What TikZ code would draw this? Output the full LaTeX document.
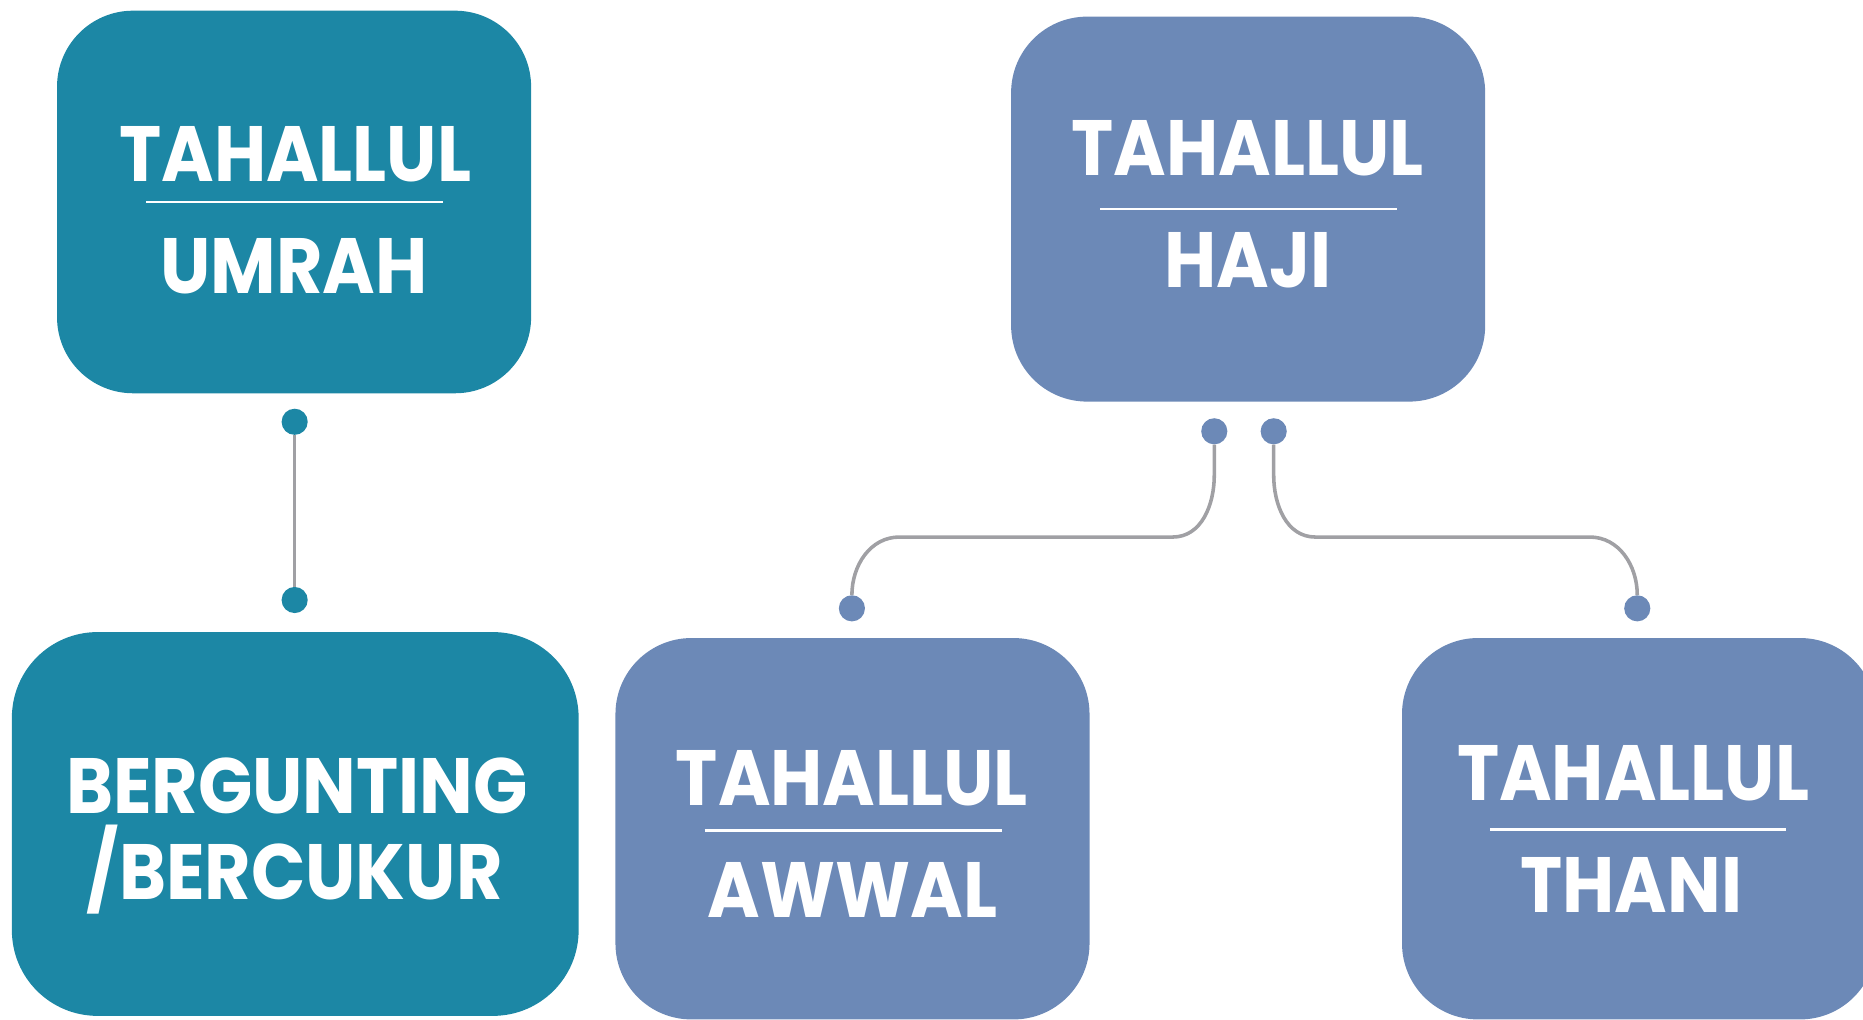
\documentclass[tikz,border=0pt]{standalone}
\usepackage{fontspec}
\setmainfont{Poppins}
\newfontfamily\boxfont{Poppins}[FakeStretch=0.91]
\definecolor{umrahteal}{RGB}{28,135,165}
\definecolor{hajiblue}{RGB}{108,137,183}
\definecolor{linkgray}{RGB}{160,160,164}
\begin{document}
\begin{tikzpicture}[x=1pt,y=1pt,
	box/.style={rounded corners=64pt, minimum width=399pt, minimum height=322pt, inner sep=0pt},
	label/.style={text=white, inner sep=0pt, anchor=base, font=\boxfont\fontsize{66}{66}\selectfont\bfseries},
	dot/.style={circle, inner sep=0pt, minimum size=22pt},
	link/.style={draw=linkgray, line width=3pt},
	bar/.style={draw=white, line width=2pt}]
	\useasboundingbox (0,0) rectangle (1568,-858);
	\clip (0,0) rectangle (1568,-858);
	% boxes
	\node[box, fill=umrahteal] (umrah) at (247.5,-170) {};
	\node[box, fill=hajiblue, minimum height=324pt] (haji) at (1050.5,-176) {};
	\node[box, fill=umrahteal, minimum width=477pt, minimum height=323pt, rounded corners=72pt] (cukur) at (248.5,-693.5) {};
	\node[box, fill=hajiblue, minimum height=321pt] (awwal) at (717.5,-697.5) {};
	\node[box, fill=hajiblue, minimum height=321pt] (thani) at (1379.5,-697.5) {};
	% texts
	\node[label] (umrahA) at (248.5,-153) {TAHALLUL};
	\node[label] (umrahB) at (247.5,-247) {UMRAH};
	\draw[bar] (123,-170) -- (373,-170);
	\node[label] (hajiA) at (1050,-148) {TAHALLUL};
	\node[label] (hajiB) at (1050.5,-242) {HAJI};
	\draw[bar] (926,-176) -- (1176,-176);
	\node[label] (cukurA) at (250,-685) {BERGUNTING};
	\node[label] (cukurB) at (248,-757) {/BERCUKUR};
	\node[label] (awwalA) at (717,-678) {TAHALLUL};
	\node[label] (awwalB) at (717.5,-772) {AWWAL};
	\draw[bar] (593,-699) -- (843,-699);
	\node[label] (thaniA) at (1374.5,-674) {TAHALLUL};
	\node[label] (thaniB) at (1373,-768) {THANI};
	\draw[bar] (1254,-698) -- (1503,-698);
	% dots
	\node[dot, fill=umrahteal] (dotU) at (248,-355) {};
	\node[dot, fill=umrahteal] (dotC) at (248,-505) {};
	\node[dot, fill=hajiblue] (dotHL) at (1022,-363) {};
	\node[dot, fill=hajiblue] (dotHR) at (1072,-363) {};
	\node[dot, fill=hajiblue] (dotA) at (717,-512) {};
	\node[dot, fill=hajiblue] (dotT) at (1378,-512) {};
	% links
	\draw[link] (dotU) -- (dotC);
	\draw[link] (dotHL) -- ++(0,-37) to[out=-90,in=0] ++(-35,-52) -- ++(-230,0) to[out=180,in=90] (dotA);
	\draw[link] (dotHR) -- ++(0,-37) to[out=-90,in=180] ++(35,-52) -- ++(231,0) to[out=0,in=90] (dotT);
\end{tikzpicture}
\end{document}
